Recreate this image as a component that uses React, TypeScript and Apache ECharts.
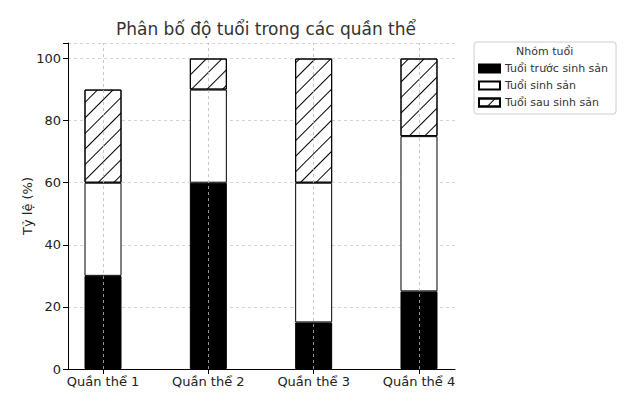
import React, { useEffect, useRef } from "react";
import * as echarts from "echarts";

// dữ liệu
const categories = ["Quần thể 1", "Quần thể 2", "Quần thể 3", "Quần thể 4"];
const preRepro = [30, 60, 15, 25]; // Tuổi trước sinh sản
const repro = [30, 30, 45, 50]; // Tuổi sinh sản
const postRepro = [30, 10, 40, 25]; // Tuổi sau sinh sản
const seriesNames = ["Tuổi trước sinh sản", "Tuổi sinh sản", "Tuổi sau sinh sản"];

const FONT = "DejaVu Sans";
const Y_MAX = 105;

const App: React.FC = () => {
  const chartRef = useRef<HTMLDivElement>(null);

  useEffect(() => {
    const chart = echarts.init(chartRef.current, null, { renderer: "svg" });
    const barBase = {
      type: "bar" as const,
      stack: "total",
      barWidth: 37,
      xAxisIndex: 0,
      yAxisIndex: 0,
    };

    const option: echarts.EChartsOption = {
      animation: false,
      textStyle: { fontFamily: FONT },
      title: {
        text: "Phân bố độ tuổi trong các quần thể",
        left: 261,
        textAlign: "center",
        top: 15,
        textStyle: { fontFamily: FONT, fontSize: 17, fontWeight: "normal", color: "#333" },
      },
      legend: {
        orient: "vertical",
        left: 474,
        top: 42,
        padding: [21, 8, 6, 4],
        itemGap: 6,
        itemWidth: 21,
        itemHeight: 8,
        icon: "rect",
        backgroundColor: "#fff",
        borderColor: "#cccccc",
        borderWidth: 1,
        borderRadius: 3,
        data: seriesNames,
        textStyle: { fontFamily: FONT, fontSize: 11, color: "#333" },
      },
      graphic: [
        {
          type: "text",
          left: 516,
          top: 46,
          z: 200,
          style: { text: "Nhóm tuổi", fontFamily: FONT, fontSize: 11, fill: "#333" },
        },
      ],
      // grid 0: dải danh mục (tâm cột), grid 1: khung trục
      grid: [
        { left: 50.35, right: 155.35, top: 43, bottom: 40 },
        { left: 68, right: 172, top: 43, bottom: 40 },
      ],
      xAxis: [
        {
          type: "category",
          gridIndex: 0,
          data: categories,
          axisLine: { show: false },
          axisTick: { show: true, alignWithLabel: true, length: 5, lineStyle: { color: "#000" } },
          axisLabel: { fontFamily: FONT, fontSize: 13, color: "#222", margin: 6 },
          splitLine: { show: false },
        },
        {
          type: "value",
          gridIndex: 1,
          min: 0,
          max: 1,
          axisLine: { show: true, lineStyle: { color: "#000", width: 1 } },
          axisTick: { show: false },
          axisLabel: { show: false },
          splitLine: { show: false },
        },
      ],
      yAxis: [
        {
          type: "value",
          gridIndex: 0,
          min: 0,
          max: Y_MAX,
          show: false,
          splitLine: { show: false },
        },
        {
          type: "value",
          gridIndex: 1,
          min: 0,
          max: Y_MAX,
          interval: 20,
          name: "Tỷ lệ (%)",
          nameLocation: "middle",
          nameGap: 34,
          nameMoveOverlap: false,
          nameTextStyle: { fontFamily: FONT, fontSize: 13, color: "#222" },
          axisLine: { show: true, lineStyle: { color: "#000", width: 1 } },
          axisTick: { show: true, length: 5, lineStyle: { color: "#000" } },
          axisLabel: {
            fontFamily: FONT,
            fontSize: 13,
            color: "#222",
            margin: 7,
            formatter: (v: number) => (v > 100 ? "" : String(v)),
          },
          splitLine: { show: true, lineStyle: { color: "#c8c8c8", type: [3, 3], width: 0.8 } },
        } as any,
      ],
      series: [
        {
          ...barBase,
          name: seriesNames[0],
          data: preRepro,
          itemStyle: { color: "#000", borderColor: "#000", borderWidth: 1 },
        },
        {
          ...barBase,
          name: seriesNames[1],
          data: repro,
          itemStyle: { color: "#fff", borderColor: "#000", borderWidth: 1 },
        },
        {
          ...barBase,
          name: seriesNames[2],
          data: postRepro,
          itemStyle: {
            color: "#fff",
            borderColor: "#000",
            borderWidth: 1,
            decal: {
              symbol: "rect",
              symbolSize: 1,
              color: "#000",
              dashArrayX: [[1, 0]],
              dashArrayY: [1, 10],
              rotation: -Math.PI / 4,
            },
          },
          markLine: {
            silent: true,
            symbol: "none",
            label: { show: false },
            emphasis: { disabled: true },
            lineStyle: { color: "#b8b8b8", type: [3, 3], width: 0.8 },
            data: categories.map((c) => ({ xAxis: c })),
          },
        },
      ],
    };

    chart.setOption(option);
    return () => {
      chart.dispose();
    };
  }, []);

  return <div ref={chartRef} style={{ width: 627, height: 409, margin: -8 }} />;
};

export default App;
